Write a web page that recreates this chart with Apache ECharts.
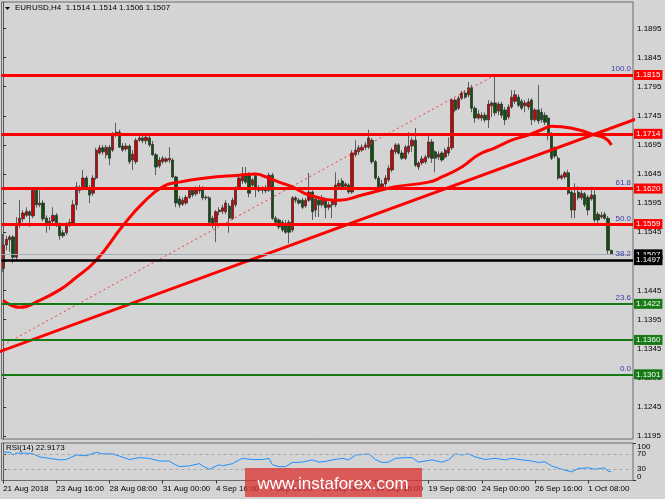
<!DOCTYPE html>
<html><head><meta charset="utf-8">
<script src="https://cdn.jsdelivr.net/npm/echarts@6/dist/echarts.min.js"></script>
<style>html,body{margin:0;padding:0;background:#d4d4d4;}#c{width:665px;height:499px;}</style>
</head><body><div id="c"></div>
<script>
// ---- DATA (EURUSD H4) ----
const opens = [1.1483,1.1523,1.1532,1.1537,1.1502,1.1557,1.1568,1.1574,1.1580,1.1573,1.1617,1.1592,1.1595,1.1569,1.1557,1.1564,1.1574,1.1557,1.1544,1.1544,1.1557,1.1561,1.1592,1.1621,1.1621,1.1638,1.1621,1.1612,1.1638,1.1681,1.1690,1.1678,1.1691,1.1686,1.1714,1.1717,1.1693,1.1688,1.1693,1.1669,1.1666,1.1703,1.1707,1.1702,1.1707,1.1696,1.1678,1.1659,1.1666,1.1667,1.1669,1.1669,1.1640,1.1602,1.1593,1.1595,1.1605,1.1617,1.1611,1.1616,1.1621,1.1605,1.1604,1.1569,1.1562,1.1580,1.1581,1.1580,1.1590,1.1569,1.1592,1.1621,1.1633,1.1643,1.1642,1.1626,1.1642,1.1621,1.1617,1.1621,1.1617,1.1643,1.1569,1.1566,1.1562,1.1559,1.1562,1.1549,1.1604,1.1600,1.1600,1.1590,1.1600,1.1614,1.1583,1.1600,1.1592,1.1600,1.1588,1.1592,1.1592,1.1624,1.1633,1.1624,1.1626,1.1614,1.1678,1.1683,1.1686,1.1691,1.1691,1.1703,1.1666,1.1638,1.1621,1.1628,1.1635,1.1652,1.1683,1.1695,1.1681,1.1672,1.1683,1.1693,1.1703,1.1657,1.1664,1.1666,1.1674,1.1700,1.1683,1.1674,1.1681,1.1674,1.1681,1.1690,1.1772,1.1758,1.1775,1.1784,1.1781,1.1793,1.1758,1.1741,1.1741,1.1746,1.1738,1.1762,1.1767,1.1753,1.1765,1.1755,1.1743,1.1760,1.1770,1.1777,1.1770,1.1762,1.1760,1.1772,1.1738,1.1755,1.1751,1.1746,1.1741,1.1712,1.1690,1.1672,1.1638,1.1640,1.1647,1.1614,1.1583,1.1614,1.1604,1.1611,1.1605,1.1602,1.1609,1.1576,1.1571,1.1576,1.1569,1.1514];
const closes = [1.1523,1.1533,1.1537,1.1502,1.1557,1.1569,1.1578,1.1581,1.1574,1.1617,1.1592,1.1595,1.1568,1.1557,1.1564,1.1574,1.1557,1.1539,1.1539,1.1557,1.1562,1.1592,1.1623,1.1617,1.1638,1.1621,1.1609,1.1638,1.1686,1.1690,1.1683,1.1691,1.1672,1.1714,1.1717,1.1691,1.1686,1.1693,1.1666,1.1679,1.1703,1.1707,1.1702,1.1708,1.1695,1.1678,1.1657,1.1669,1.1672,1.1671,1.1672,1.1640,1.1595,1.1592,1.1600,1.1605,1.1617,1.1609,1.1621,1.1621,1.1604,1.1604,1.1562,1.1561,1.1580,1.1583,1.1587,1.1595,1.1569,1.1600,1.1621,1.1638,1.1643,1.1631,1.1612,1.1635,1.1621,1.1617,1.1621,1.1616,1.1643,1.1569,1.1562,1.1554,1.1549,1.1545,1.1545,1.1604,1.1600,1.1595,1.1588,1.1600,1.1614,1.1580,1.1602,1.1592,1.1604,1.1587,1.1592,1.1599,1.1626,1.1629,1.1623,1.1628,1.1614,1.1681,1.1686,1.1690,1.1691,1.1695,1.1707,1.1666,1.1638,1.1621,1.1628,1.1638,1.1655,1.1686,1.1695,1.1681,1.1672,1.1691,1.1693,1.1703,1.1660,1.1664,1.1671,1.1674,1.1700,1.1672,1.1672,1.1679,1.1669,1.1686,1.1691,1.1772,1.1755,1.1775,1.1784,1.1777,1.1793,1.1758,1.1741,1.1748,1.1746,1.1738,1.1765,1.1767,1.1750,1.1765,1.1746,1.1738,1.1760,1.1777,1.1781,1.1763,1.1758,1.1767,1.1769,1.1738,1.1755,1.1736,1.1738,1.1734,1.1712,1.1672,1.1676,1.1638,1.1642,1.1647,1.1612,1.1583,1.1612,1.1604,1.1612,1.1592,1.1583,1.1609,1.1566,1.1566,1.1574,1.1569,1.1514,1.1507];
const highs = [1.1542,1.1539,1.1540,1.1540,1.1571,1.1600,1.1583,1.1588,1.1583,1.1621,1.1621,1.1617,1.1600,1.1574,1.1571,1.1588,1.1578,1.1562,1.1549,1.1562,1.1568,1.1600,1.1631,1.1626,1.1652,1.1642,1.1626,1.1643,1.1690,1.1695,1.1695,1.1695,1.1695,1.1717,1.1733,1.1721,1.1698,1.1698,1.1696,1.1686,1.1707,1.1712,1.1714,1.1712,1.1715,1.1702,1.1681,1.1674,1.1676,1.1674,1.1691,1.1672,1.1642,1.1607,1.1605,1.1609,1.1621,1.1621,1.1624,1.1626,1.1624,1.1609,1.1607,1.1573,1.1583,1.1588,1.1592,1.1600,1.1595,1.1604,1.1624,1.1642,1.1657,1.1657,1.1648,1.1638,1.1645,1.1626,1.1624,1.1626,1.1647,1.1647,1.1573,1.1569,1.1566,1.1566,1.1566,1.1607,1.1607,1.1604,1.1604,1.1604,1.1647,1.1617,1.1607,1.1607,1.1609,1.1604,1.1597,1.1602,1.1648,1.1635,1.1638,1.1631,1.1629,1.1686,1.1703,1.1695,1.1696,1.1700,1.1721,1.1707,1.1669,1.1642,1.1635,1.1643,1.1660,1.1690,1.1698,1.1698,1.1686,1.1695,1.1717,1.1708,1.1724,1.1667,1.1676,1.1678,1.1712,1.1705,1.1686,1.1684,1.1684,1.1690,1.1708,1.1775,1.1775,1.1779,1.1788,1.1789,1.1803,1.1798,1.1762,1.1755,1.1751,1.1751,1.1772,1.1770,1.1815,1.1769,1.1769,1.1760,1.1765,1.1789,1.1789,1.1782,1.1774,1.1772,1.1775,1.1775,1.1758,1.1798,1.1758,1.1751,1.1746,1.1717,1.1693,1.1676,1.1645,1.1650,1.1652,1.1617,1.1629,1.1624,1.1617,1.1614,1.1609,1.1623,1.1617,1.1580,1.1580,1.1580,1.1573,1.1514];
const lows = [1.1477,1.1514,1.1511,1.1492,1.1497,1.1552,1.1562,1.1571,1.1554,1.1569,1.1587,1.1588,1.1564,1.1544,1.1549,1.1557,1.1554,1.1532,1.1535,1.1540,1.1554,1.1557,1.1583,1.1612,1.1617,1.1617,1.1595,1.1607,1.1635,1.1678,1.1678,1.1672,1.1660,1.1683,1.1708,1.1690,1.1683,1.1684,1.1662,1.1652,1.1662,1.1700,1.1698,1.1696,1.1691,1.1676,1.1643,1.1655,1.1662,1.1664,1.1664,1.1638,1.1588,1.1587,1.1590,1.1592,1.1602,1.1605,1.1607,1.1611,1.1600,1.1600,1.1559,1.1552,1.1528,1.1574,1.1576,1.1576,1.1544,1.1566,1.1588,1.1617,1.1628,1.1628,1.1605,1.1623,1.1605,1.1614,1.1611,1.1612,1.1614,1.1566,1.1557,1.1550,1.1545,1.1542,1.1526,1.1545,1.1595,1.1592,1.1585,1.1587,1.1597,1.1566,1.1571,1.1571,1.1588,1.1569,1.1583,1.1569,1.1588,1.1621,1.1617,1.1621,1.1611,1.1611,1.1674,1.1678,1.1683,1.1686,1.1688,1.1662,1.1635,1.1617,1.1617,1.1617,1.1631,1.1648,1.1679,1.1678,1.1669,1.1669,1.1679,1.1683,1.1657,1.1652,1.1660,1.1662,1.1671,1.1664,1.1648,1.1669,1.1666,1.1671,1.1676,1.1686,1.1751,1.1755,1.1772,1.1774,1.1777,1.1751,1.1733,1.1738,1.1736,1.1734,1.1724,1.1743,1.1745,1.1746,1.1741,1.1729,1.1739,1.1757,1.1765,1.1760,1.1755,1.1751,1.1755,1.1729,1.1734,1.1731,1.1733,1.1729,1.1703,1.1669,1.1672,1.1635,1.1635,1.1636,1.1609,1.1569,1.1569,1.1600,1.1600,1.1588,1.1574,1.1599,1.1562,1.1561,1.1568,1.1566,1.1507,1.1506];
// moving average (bar index, value)
const maPoints = [[0,1.1428],[5,1.1416],[11,1.1428],[17,1.1446],[21,1.1463],[28,1.1497],[36,1.1556],[42,1.1595],[48,1.1623],[53,1.1631],[61,1.1638],[71,1.1643],[76,1.1645],[79,1.1640],[83,1.1631],[87,1.1623],[92,1.1609],[101,1.1600],[108,1.1609],[118,1.1623],[128,1.1631],[132,1.1640],[138,1.1657],[143,1.1678],[148,1.1690],[153,1.1703],[158,1.1712],[162,1.1721],[165,1.1727],[168,1.1726],[173,1.1721],[178,1.1712],[181,1.1707],[183,1.1695]];
const trendPoints = [[-2,1.1338],[195,1.1749]];
const fibAnchors = [[-16,1.1301],[148,1.1815]];
const fibLevels = [0,23.6,38.2,50,61.8,100];
const redLevels = [1.1815,1.1714,1.1620,1.1559];
const blackLevels = [1.1497];
const greenLevels = [1.1422,1.1360,1.1301];
const bidPrice = 1.1507;
const priceTicks = [1.1195,1.1245,1.1295,1.1345,1.1395,1.1445,1.1495,1.1545,1.1595,1.1645,1.1695,1.1745,1.1795,1.1845,1.1895];
const rsiPoints = [[0,76],[2,75],[3,68],[4,73],[7,73],[9,71],[11,63],[14,59],[17,55],[19,56],[22,68],[25,66],[28,75],[30,71],[33,71],[35,65],[38,56],[41,61],[44,59],[47,52],[50,52],[51,46],[53,37],[56,39],[59,45],[60,39],[62,30],[65,42],[66,39],[69,45],[71,55],[72,59],[75,56],[78,56],[80,59],[81,42],[83,37],[85,37],[87,48],[90,49],[93,55],[95,49],[97,51],[99,55],[102,59],[104,55],[106,68],[109,70],[110,71],[112,56],[114,48],[116,49],[118,59],[121,61],[123,61],[125,49],[129,55],[132,49],[134,55],[136,71],[138,68],[140,71],[142,63],[145,56],[148,59],[151,55],[153,59],[156,55],[159,52],[161,48],[163,50],[165,39],[168,30],[171,23],[173,32],[176,34],[178,30],[181,34],[182,25],[183,22.9173]];
const rsiLevels = [30,70];
const rsiEndTicks = [0,100];
const dateTicks = ['21 Aug 2018','23 Aug 16:00','28 Aug 08:00','31 Aug 00:00','4 Sep 16:00','7 Sep 08:00','12 Sep 00:00','14 Sep 16:00','19 Sep 08:00','24 Sep 00:00','26 Sep 16:00','1 Oct 08:00'];
const barsPerDateTick = 16;

// ---- chart ----
const FONT = '"Liberation Sans", Arial, sans-serif';
const nCat = 190;
const cats = Array.from({length:nCat},(_,i)=>String(i));
const tickIdx = dateTicks.map((_,i)=>i*barsPerDateTick);
const candleData = opens.map((o,i)=>[o, closes[i], lows[i], highs[i]]);
const last = opens.length-1;
const header = 'EURUSD,H4  ' + [opens[last],highs[last],lows[last],closes[last]].map(v=>v.toFixed(4)).join(' ');

function boxLine(v, lineColor, width, bg){
  return {yAxis:v, lineStyle:{color:lineColor, width:width, type:'solid'},
    label:{show:true, position:'end', distance:1, formatter:v.toFixed(4), backgroundColor:bg,
      color:'#fff', fontSize:8, lineHeight:9, padding:[1,2,0,2], fontFamily:FONT}};
}
const hLines = [];
hLines.push(boxLine(bidPrice,'#a4acb8',1,'#000'));
redLevels.forEach(v=>hLines.push(boxLine(v,'#ff0000',3,'#ff0000')));
greenLevels.forEach(v=>hLines.push(boxLine(v,'#137a13',2,'#177a17')));
blackLevels.forEach(v=>hLines.push(boxLine(v,'#000000',2.5,'#000')));

const fLo = fibAnchors[0][1], fHi = fibAnchors[1][1];
const fibLines = fibLevels.map(l=>({yAxis: fLo + (fHi-fLo)*l/100,
  lineStyle:{color:'rgba(0,0,0,0)', width:1},
  label:{show:true, position:'insideEndTop', distance:2, formatter:l.toFixed(1), color:'#3a3aa6', fontSize:8, fontFamily:FONT, opacity:1}}));

const axisLbl = {fontSize:8, color:'#000', margin:4, fontFamily:FONT};
const chart = echarts.init(document.getElementById('c'));
chart.setOption({
  animation:false,
  backgroundColor:'#d4d4d4',
  textStyle:{fontFamily:FONT},
  grid:[
    {left:1.5, right:32, top:2, height:437, show:true, borderColor:'#6b6b6b', borderWidth:1},
    {left:1.5, right:32, top:443, height:37.5, show:true, borderColor:'#6b6b6b', borderWidth:1}
  ],
  xAxis:[
    {type:'category', gridIndex:0, data:cats, show:false, boundaryGap:true},
    {type:'value', gridIndex:0, min:-0.5, max:nCat-0.5, show:false},
    {type:'value', gridIndex:1, min:-0.5, max:nCat-0.5, axisLine:{show:false}, splitLine:{show:false},
      axisTick:{show:true, customValues:tickIdx, length:3, lineStyle:{color:'#333'}},
      axisLabel:Object.assign({customValues:tickIdx, formatter:v=>dateTicks[tickIdx.indexOf(Math.round(v))]||'', align:'left'}, axisLbl)}
  ],
  yAxis:[
    {type:'value', gridIndex:0, position:'right', min:1.118989, max:1.194037, scale:true, splitLine:{show:false},
      axisLine:{show:true, lineStyle:{color:'#555'}},
      axisTick:{show:true, customValues:priceTicks, length:3, lineStyle:{color:'#333'}},
      axisLabel:Object.assign({customValues:priceTicks, formatter:v=>v.toFixed(4)}, axisLbl)},
    {type:'value', gridIndex:1, position:'right', min:0, max:100, splitLine:{show:false},
      axisLine:{show:true, lineStyle:{color:'#555'}},
      axisTick:{show:true, customValues:rsiLevels, length:3, lineStyle:{color:'#333'}},
      axisLabel:Object.assign({customValues:rsiLevels, showMinLabel:true, showMaxLabel:true}, axisLbl)},
    {type:'value', gridIndex:1, position:'right', min:0, max:100, splitLine:{show:false},
      axisLine:{show:false},
      axisTick:{show:true, customValues:rsiEndTicks, length:3, lineStyle:{color:'#333'}},
      axisLabel:Object.assign({customValues:rsiEndTicks, showMinLabel:true, showMaxLabel:true,
        verticalAlignMaxLabel:'top', verticalAlignMinLabel:'bottom'}, axisLbl)}
  ],
  series:[
    {type:'candlestick', xAxisIndex:0, yAxisIndex:0, data:candleData, barWidth:2.8, silent:true,
      itemStyle:{color:'#d00000', color0:'#0b520b', borderColor:'#2a2a2a', borderColor0:'#2a2a2a', borderWidth:0.7},
      markLine:{symbol:['none','none'], silent:true, animation:false, precision:4, data:hLines}},
    {type:'line', xAxisIndex:1, yAxisIndex:0, data:fibAnchors, showSymbol:false, silent:true, clip:true,
      lineStyle:{color:'#f03a3a', width:1, type:[2,3]}, z:3},
    {type:'line', xAxisIndex:1, yAxisIndex:0, data:trendPoints, showSymbol:false, silent:true, clip:true,
      lineStyle:{color:'#ff0000', width:3}, z:4},
    {type:'line', xAxisIndex:1, yAxisIndex:0, data:maPoints, smooth:true, showSymbol:false, silent:true, clip:true,
      lineStyle:{color:'#ff0000', width:3}, z:4,
      markLine:{symbol:['none','none'], silent:true, animation:false, precision:4, data:fibLines}},
    {type:'line', xAxisIndex:2, yAxisIndex:1, data:rsiPoints, showSymbol:false, silent:true,
      lineStyle:{color:'#1e90ff', width:1},
      markLine:{symbol:['none','none'], silent:true, animation:false, label:{show:false},
        lineStyle:{color:'#a9a9a9', width:1, type:[3,3]}, data:rsiLevels.map(v=>({yAxis:v}))}}
  ],
  graphic:[
    {type:'polygon', shape:{points:[[5,7],[10,7],[7.5,10]]}, style:{fill:'#000'}},
    {type:'text', left:15, top:4, style:{text:header, font:'8px "Liberation Sans", Arial', fill:'#000'}},
    {type:'text', left:6, top:444, style:{text:'RSI(14) 22.9173', font:'8px "Liberation Sans", Arial', fill:'#000'}},
    {type:'rect', shape:{x:245, y:468, width:177, height:29}, style:{fill:'rgba(220,50,50,0.75)'}, z:100},
    {type:'text', x:333, y:484, z:101, style:{text:'www.instaforex.com', font:'17px "Liberation Sans", Arial', fill:'#fff', align:'center', verticalAlign:'middle'}}
  ]
});
</script></body></html>
